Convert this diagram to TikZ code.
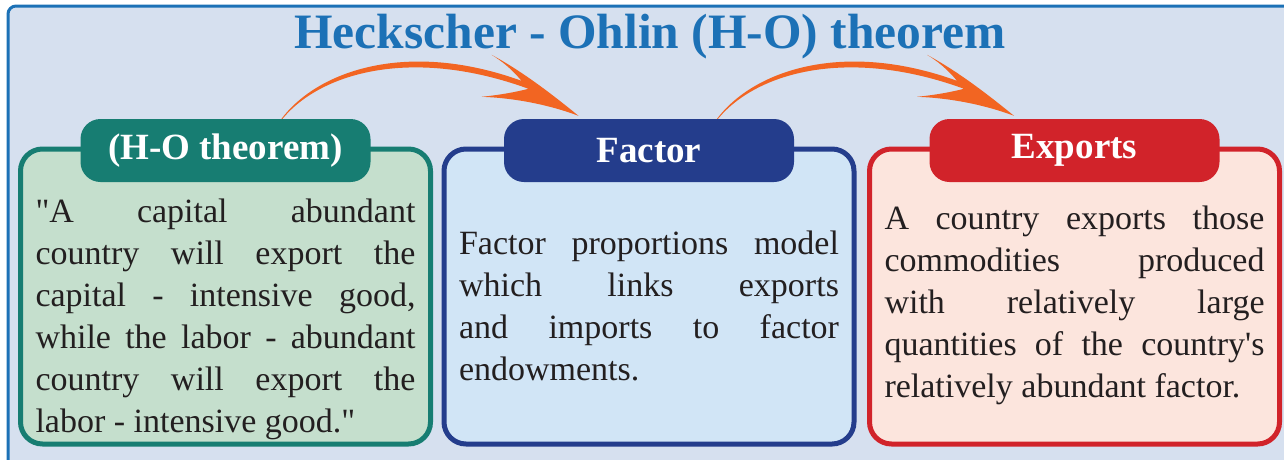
\documentclass[tikz,border=0pt]{standalone}
\usepackage{fontspec}
\setmainfont{Liberation Serif}
\tolerance=10000
\hbadness=10000
\hyphenpenalty=10000
\exhyphenpenalty=10000

\definecolor{bgblue}{HTML}{D6E0EF}
\definecolor{frameblue}{HTML}{1C71B6}
\definecolor{txt}{HTML}{231F20}
\definecolor{tealdark}{HTML}{177D72}
\definecolor{tealfill}{HTML}{C5DFCD}
\definecolor{navy}{HTML}{243D8C}
\definecolor{navyfill}{HTML}{D1E5F6}
\definecolor{redc}{HTML}{D1232A}
\definecolor{redfill}{HTML}{FCE5DD}
\definecolor{arrowc}{HTML}{F26522}

\tikzset{
  swoosh/.pic={
    \fill[arrowc] (0,0) .. controls (37,-49) and (127,-79) .. (240,-38)
      .. controls (230,-50) and (220,-58) .. (210,-64)
      .. controls (240,-48) and (270,-25) .. (297,-3)
      .. controls (265,-15) and (230,-21) .. (200,-22)
      .. controls (220,-24) and (235,-27) .. (247,-30)
      .. controls (132,-72) and (40,-47) .. (1,0) -- cycle;
  }
}

\begin{document}
\begin{tikzpicture}[
  x=1pt, y=-1pt,
  box/.style={draw, line width=5pt, rounded corners=22pt, minimum width=410pt, minimum height=295pt},
  head/.style={rounded corners=20pt, minimum width=290pt, minimum height=63pt, text=white, font=\fontsize{37}{40}\selectfont\bfseries},
  body/.style={text width=380pt, align=justify, inner sep=0pt, text=txt, font=\fontsize{34}{42}\selectfont}
]
\useasboundingbox (0,0) rectangle (1284,459);
\clip (0,0) rectangle (1284,459);

\draw[frameblue, fill=bgblue, line width=3pt, rounded corners=8pt] (8,6) rectangle (1320,500);

\node[anchor=base, text=frameblue, font=\fontsize{49.5}{54}\selectfont\bfseries] (title) at (650,48) {Heckscher - Ohlin (H-O) theorem};

% boxes
\node[box, draw=tealdark, fill=tealfill] (box1) at (225.5,296.5) {};
\node[box, draw=navy, fill=navyfill]     (box2) at (649,296.5) {};
\node[box, draw=redc, fill=redfill]      (box3) at (1074.5,296.5) {};

\node[head, fill=tealdark, yshift=-4pt] (h1) at (box1.north) {(H-O theorem)};
\node[head, fill=navy, yshift=-4pt]     (h2) at (box2.north) {Factor};
\node[head, fill=redc, yshift=-4pt]     (h3) at (box3.north) {Exports};

\node[body, yshift=-22.5pt] (t1) at (box1.center) {\textquotedbl A capital abundant\linebreak country will export the\linebreak capital - intensive good,\linebreak while the labor - abundant\linebreak country will export the\linebreak labor - intensive good.\textquotedbl};
\node[body, yshift=-9pt] (t2) at (box2.center) {Factor proportions model\linebreak which links exports\linebreak and imports to factor\linebreak endowments.};
\node[body, yshift=-8.5pt] (t3) at (box3.center) {A country exports those\linebreak commodities produced\linebreak with relatively large\linebreak quantities of the country\textquotesingle s\linebreak relatively abundant factor.};

% arrows
\coordinate (s1) at ([xshift=56pt]h1.north);
\coordinate (s2) at ([xshift=68pt]h2.north);
\pic at (s1) {swoosh};
\pic at (s2) {swoosh};
\end{tikzpicture}
\end{document}
